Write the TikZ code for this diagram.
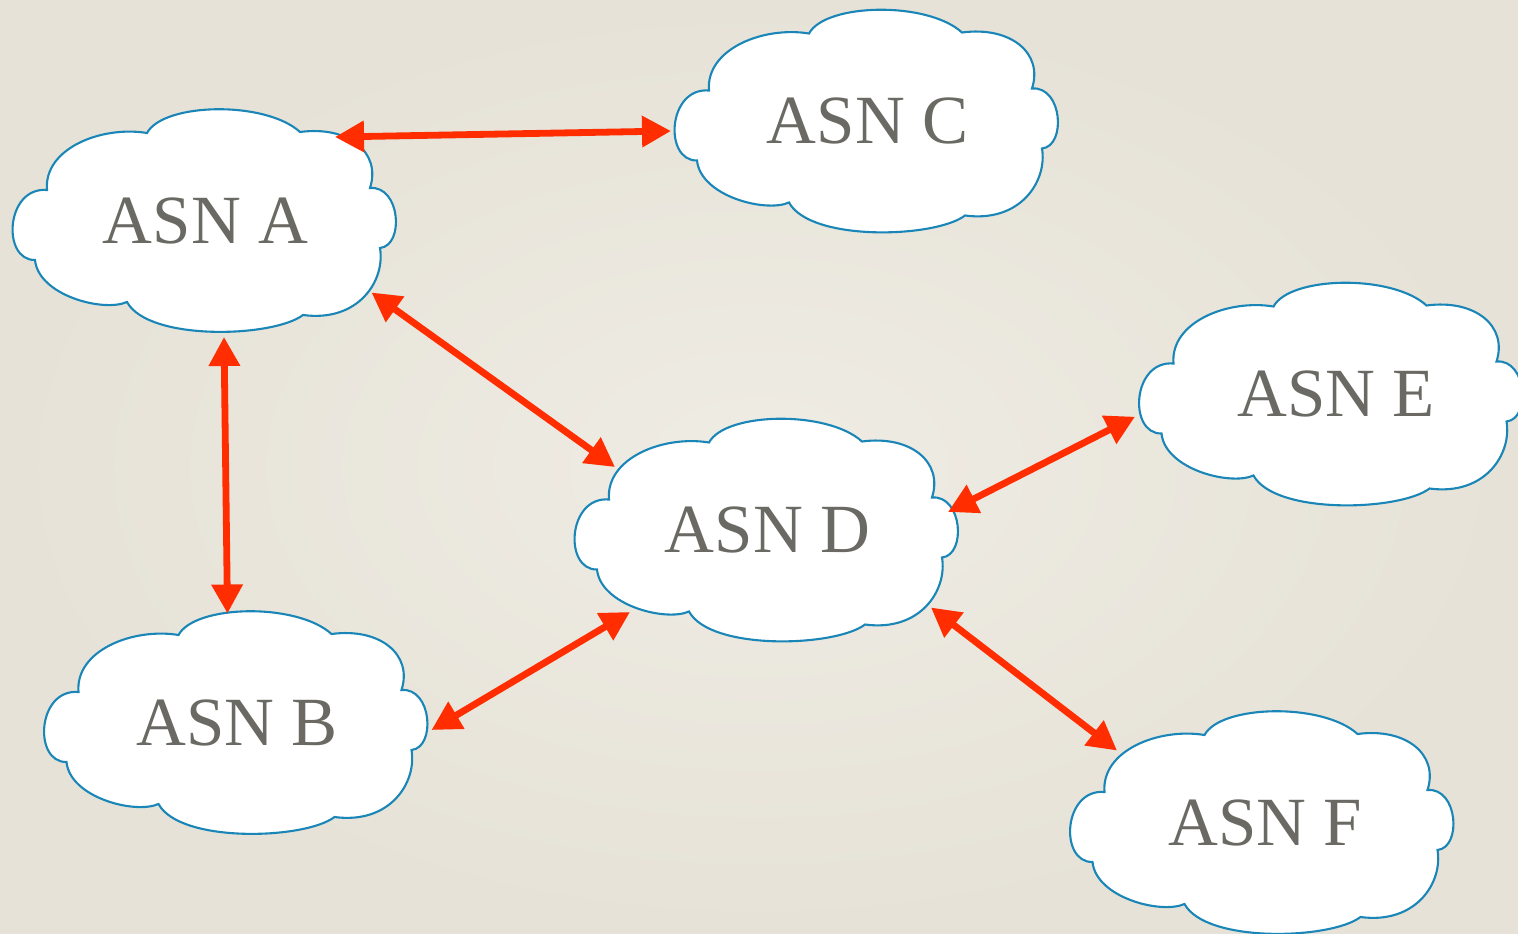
\documentclass[tikz,border=0pt]{standalone}
\usepackage{fontspec}
\setmainfont{Liberation Serif}
\usetikzlibrary{arrows.meta}
\definecolor{bgin}{HTML}{EFECE4}
\definecolor{bgout}{HTML}{E6E2D7}
\definecolor{cloudblue}{HTML}{1A86B8}
\definecolor{linkred}{HTML}{FF2D00}
\definecolor{labelgray}{HTML}{6A6963}
\tikzset{
  cloudline/.style={draw=cloudblue, line width=2.1pt, fill=white},
  asncloud/.pic={
    \path[cloudline] (-156.5,-30.5)
      .. controls (-160,-72) and (-102,-95) .. (-56.5,-87.5)
      .. controls (-40,-118) and (62,-120) .. (96.5,-88.5)
      .. controls (145,-95) and (178,-68) .. (166.5,-32.5)
      .. controls (197,-35) and (201,25) .. (176.5,27.5)
      .. controls (182,60) and (155,102) .. (99.5,94.5)
      .. controls (70,117) and (-55,121) .. (-76.5,81.5)
      .. controls (-100,92) and (-165,75) .. (-168.5,39.5)
      .. controls (-202,40) and (-198,-34) .. cycle;
  },
  asnlabel/.style={text=labelgray, font=\fontsize{69}{80}\selectfont,
    inner sep=0pt, minimum width=387pt, minimum height=225pt},
  link/.style={draw=linkred, line width=6.8pt,
    {Triangle[length=29pt,width=30pt]}-{Triangle[length=29pt,width=30pt]}}
}
\begin{document}
\begin{tikzpicture}[x=1pt,y=-1pt]
\useasboundingbox (0,0) rectangle (1518,934);
\clip (0,0) rectangle (1518,934);
\shade[inner color=bgin, outer color=bgout] (0,0) rectangle (1518,934);
% clouds
\pic at (203.5,220.5) {asncloud};
\pic at (865.5,121) {asncloud};
\pic at (235,722.5) {asncloud};
\pic at (765.5,530) {asncloud};
\pic at (1330,394) {asncloud};
\pic at (1261,822.5) {asncloud};
% labels
\node[asnlabel] (A) at (205.5,220.5) {ASN A};
\node[asnlabel] (C) at (867.5,121) {ASN C};
\node[asnlabel] (B) at (237,722.5) {ASN B};
\node[asnlabel] (D) at (767.5,530) {ASN D};
\node[asnlabel] (E) at (1336,394) {ASN E};
\node[asnlabel] (F) at (1265,822.5) {ASN F};
% attachment points on cloud borders
\coordinate (A-c) at ([shift={(129.5,-83.5)}]A.center);
\coordinate (A-d) at ([shift={(166,72)}]A.center);
\coordinate (A-b) at ([shift={(18.5,116.5)}]A.center);
\coordinate (C-a) at ([shift={(-196.5,10)}]C.center);
\coordinate (D-a) at ([shift={(-152.5,-63)}]D.center);
\coordinate (D-b) at ([shift={(-137.5,82)}]D.center);
\coordinate (D-e) at ([shift={(180.5,-18)}]D.center);
\coordinate (D-f) at ([shift={(163.5,77.5)}]D.center);
\coordinate (B-a) at ([shift={(-9.5,-109)}]B.center);
\coordinate (B-d) at ([shift={(194.5,7.5)}]B.center);
\coordinate (E-d) at ([shift={(-201,22.7)}]E.center);
\coordinate (F-d) at ([shift={(-148,-72)}]F.center);
% links
\draw[link] (A-c) -- (C-a);
\draw[link] (A-d) -- (D-a);
\draw[link] (A-b) -- (B-a);
\draw[link] (D-b) -- (B-d);
\draw[link] (D-e) -- (E-d);
\draw[link] (D-f) -- (F-d);
\end{tikzpicture}
\end{document}
